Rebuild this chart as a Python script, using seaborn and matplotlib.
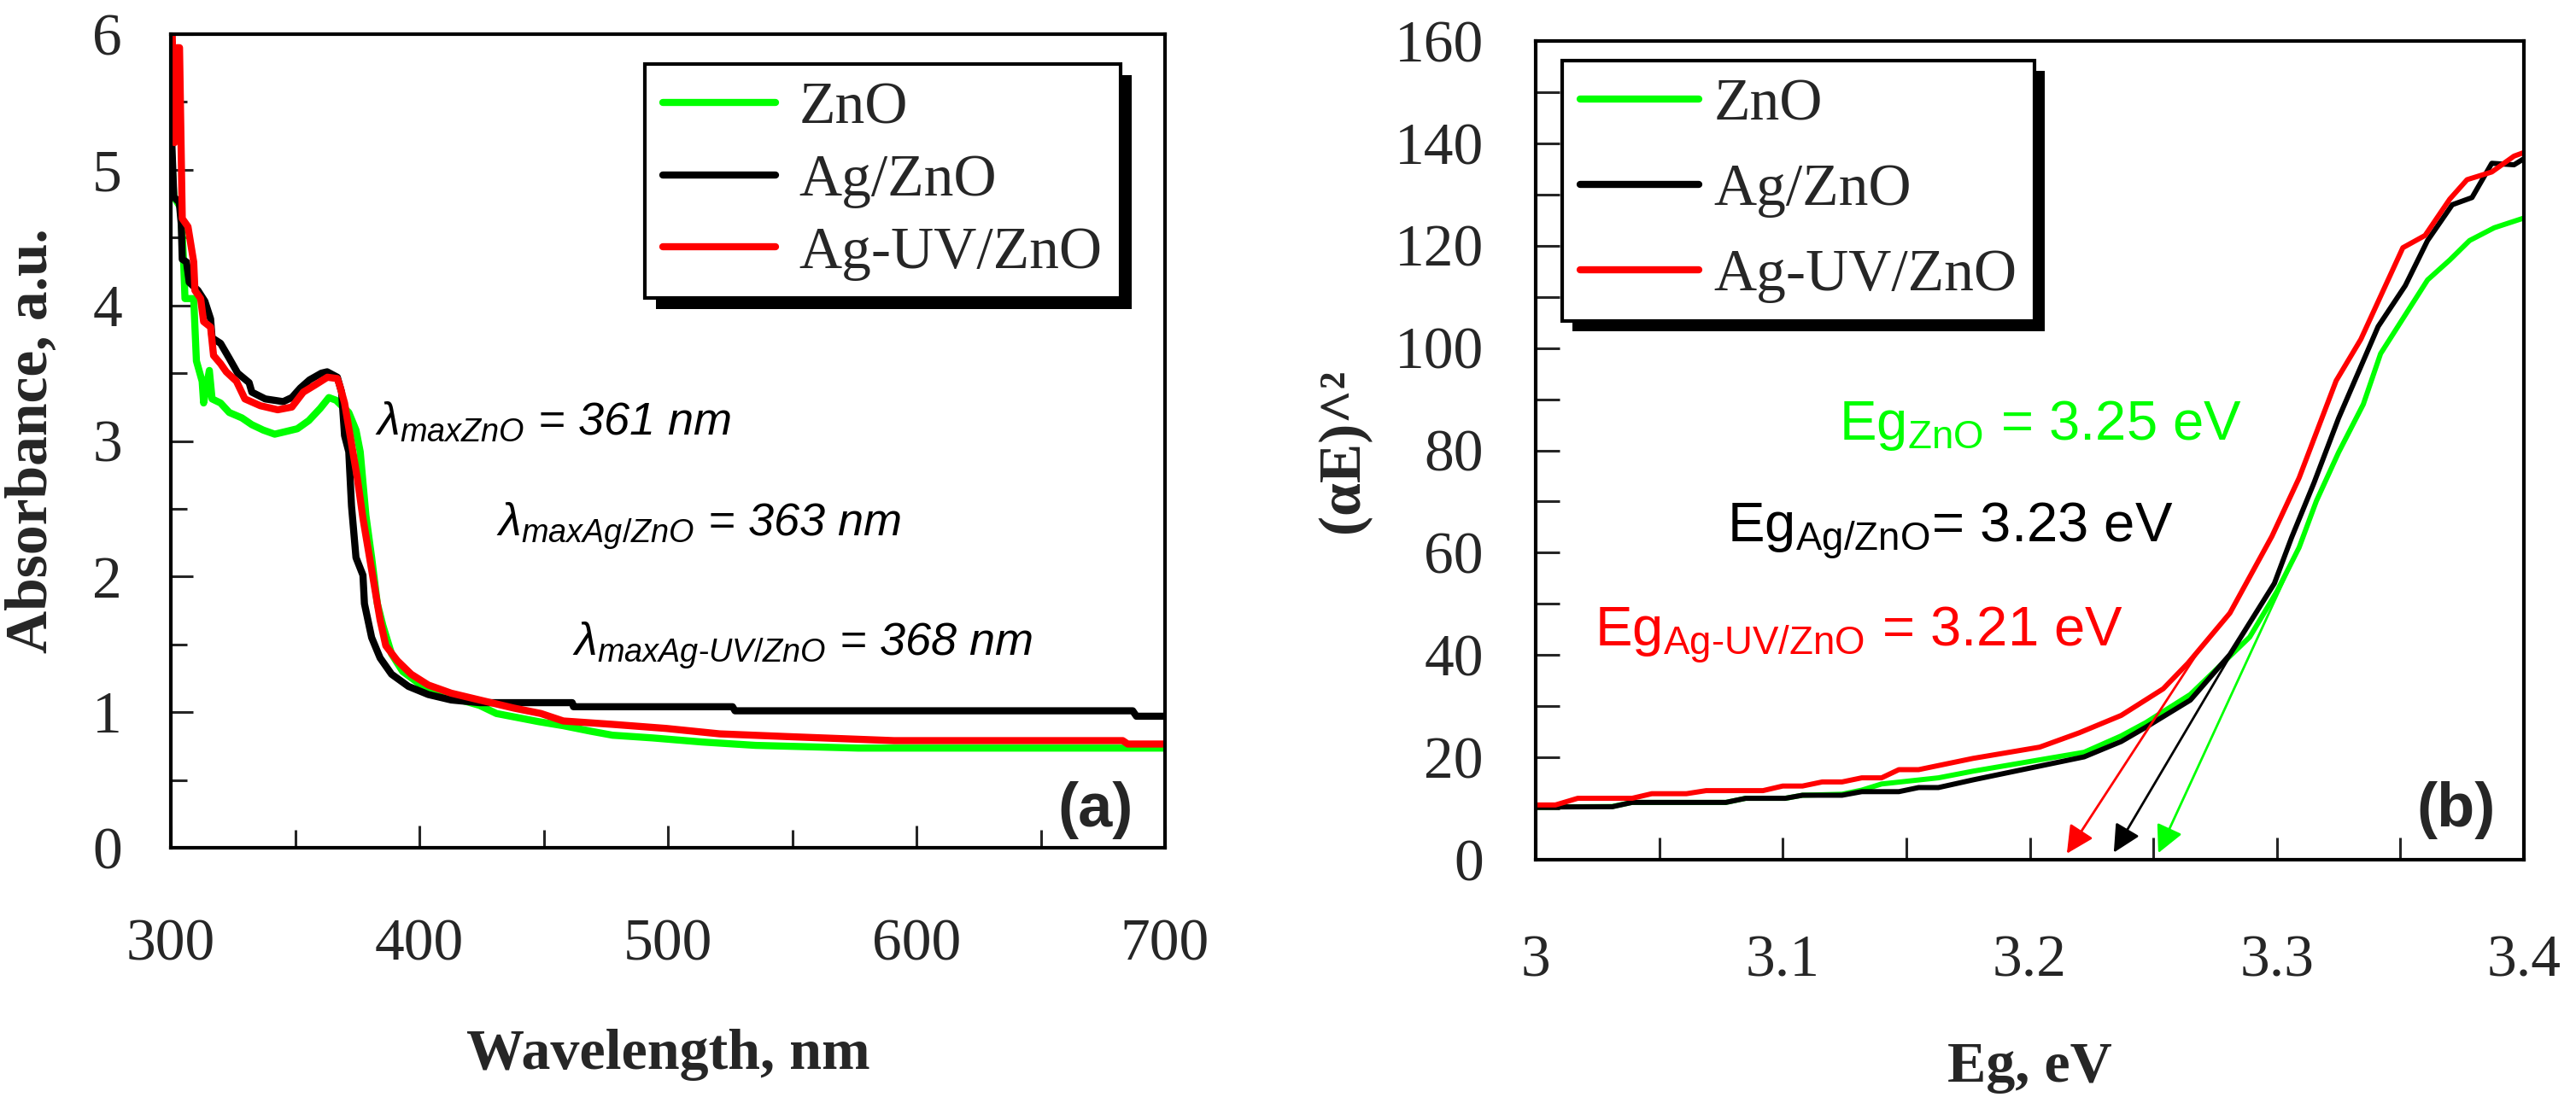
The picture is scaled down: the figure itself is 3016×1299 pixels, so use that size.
import numpy as np
import pandas as pd
import seaborn as sns
import matplotlib.pyplot as plt
from matplotlib.ticker import MultipleLocator, FuncFormatter
from matplotlib.patches import Rectangle

# ---- data ----
# (a) absorbance spectra
zno_wl = [300.3, 301.2, 304.0, 305.2, 305.7, 309.2, 310.3, 312.6, 313.2, 315.5, 316.6, 320.0,
          323.5, 328.6, 332.6, 337.2, 341.8, 346.4, 350.9, 355.5, 360.1, 363.6, 366.5, 368.7,
          371.6, 374.5, 376.2, 378.5, 380.8, 383.1, 385.3, 388.8, 393.3, 401.4, 412.8, 424.2,
          431.0, 448.0, 457.9, 468.8, 477.7, 493.8, 513.7, 535.3, 576.6, 700.0]
zno_abs = [5.10, 4.80, 4.72, 4.30, 4.05, 4.05, 3.59, 3.44, 3.28, 3.52, 3.31, 3.28,
           3.21, 3.17, 3.12, 3.08, 3.05, 3.07, 3.09, 3.15, 3.24, 3.32, 3.30, 3.26,
           3.21, 3.08, 2.92, 2.45, 2.14, 1.80, 1.64, 1.43, 1.30, 1.19, 1.11, 1.05,
           0.99, 0.93, 0.90, 0.86, 0.83, 0.81, 0.78, 0.755, 0.735, 0.735]

ag_wl = [300.3, 301.2, 303.4, 304.2, 304.6, 306.3, 307.4, 310.9, 313.7, 316.0, 316.6, 320.0,
         323.5, 326.9, 331.5, 332.6, 338.0, 345.2, 348.7, 352.1, 355.8, 360.6, 362.9, 367.0,
         368.7, 369.9, 371.6, 372.7, 374.5, 377.3, 377.9, 380.8, 384.2, 388.8, 395.6, 403.6,
         412.8, 424.2, 461.5, 462.0, 526.0, 527.0, 687.0, 688.5, 700.0]
ag_abs = [5.25, 4.80, 4.76, 4.60, 4.34, 4.32, 4.17, 4.11, 4.03, 3.90, 3.76, 3.72,
          3.61, 3.50, 3.43, 3.36, 3.31, 3.29, 3.32, 3.39, 3.45, 3.50, 3.51, 3.47,
          3.36, 3.04, 2.92, 2.52, 2.14, 2.01, 1.80, 1.55, 1.40, 1.28, 1.19, 1.13,
          1.09, 1.07, 1.07, 1.04, 1.04, 1.01, 1.01, 0.97, 0.97]

aguv_wl = [300.5, 301.5, 302.5, 303.5, 304.6, 306.9, 309.2, 309.7, 312.0, 313.2, 316.0, 317.2,
           320.0, 322.3, 326.4, 329.8, 336.0, 343.0, 348.7, 353.3, 357.8, 363.0, 367.0, 368.1,
           369.9, 372.7, 375.0, 377.3, 379.6, 381.9, 384.2, 386.5, 391.1, 396.7, 403.6, 412.8,
           424.2, 438.0, 448.9, 457.9, 477.7, 499.3, 520.8, 547.8, 591.0, 683.0, 685.0, 700.0]
aguv_abs = [6.05, 5.20, 5.90, 5.90, 4.64, 4.58, 4.32, 4.11, 4.05, 3.88, 3.84, 3.63,
            3.57, 3.51, 3.44, 3.31, 3.26, 3.23, 3.25, 3.36, 3.41, 3.47, 3.46, 3.40,
            3.28, 2.98, 2.73, 2.43, 2.18, 1.93, 1.68, 1.49, 1.38, 1.28, 1.20, 1.14,
            1.09, 1.03, 0.99, 0.935, 0.91, 0.88, 0.84, 0.82, 0.79, 0.79, 0.765, 0.765]

# (b) Tauc plots
zno_eg = [3.000, 3.031, 3.039, 3.077, 3.085, 3.101, 3.108, 3.124, 3.132, 3.140, 3.163, 3.177,
          3.222, 3.237, 3.247, 3.265, 3.289, 3.300, 3.309, 3.316, 3.325, 3.335, 3.342, 3.361,
          3.370, 3.378, 3.388, 3.400]
zno_ae = [10.3, 10.4, 11.2, 11.2, 12.0, 12.0, 12.6, 12.8, 13.6, 14.8, 16.0, 17.3,
          21.0, 24.2, 26.8, 32.3, 43.5, 52.4, 61.0, 70.1, 79.6, 89.0, 98.9, 113.3,
          117.2, 121.0, 123.5, 125.4]

ag_eg = [3.000, 3.031, 3.039, 3.077, 3.085, 3.101, 3.108, 3.124, 3.132, 3.147, 3.155, 3.163,
         3.177, 3.222, 3.237, 3.247, 3.265, 3.281, 3.299, 3.306, 3.315, 3.325, 3.341, 3.352,
         3.361, 3.371, 3.379, 3.387, 3.396, 3.400]
ag_ae = [10.3, 10.35, 11.2, 11.2, 12.0, 12.0, 12.6, 12.6, 13.3, 13.3, 14.1, 14.1,
         15.6, 20.1, 23.1, 25.9, 31.2, 40.1, 54.0, 63.0, 73.6, 86.3, 104.2, 112.2,
         121.0, 128.0, 129.4, 136.1, 135.8, 137.0]

aguv_eg = [3.000, 3.008, 3.017, 3.039, 3.047, 3.061, 3.069, 3.092, 3.100, 3.108, 3.116, 3.124,
           3.132, 3.140, 3.147, 3.155, 3.177, 3.204, 3.220, 3.237, 3.254, 3.264, 3.281, 3.298,
           3.309, 3.324, 3.334, 3.351, 3.360, 3.370, 3.377, 3.387, 3.396, 3.400]
aguv_ae = [10.7, 10.7, 12.0, 12.0, 12.9, 12.9, 13.5, 13.5, 14.4, 14.4, 15.2, 15.2,
           16.0, 16.0, 17.6, 17.6, 19.8, 22.0, 24.8, 28.2, 33.4, 38.4, 48.2, 63.2,
           74.6, 93.6, 101.7, 119.6, 122.0, 129.1, 132.9, 134.4, 137.5, 138.2]

# tangent arrows: (start x, start y, end x, end y)
arrow_zno = (3.310, 62.0, 3.252, 1.3)
arrow_ag = (3.285, 43.0, 3.234, 1.4)
arrow_aguv = (3.268, 40.5, 3.215, 1.2)

labels = ["ZnO", "Ag/ZnO", "Ag-UV/ZnO"]
colors = ["#00ff00", "#000000", "#ff0000"]

# ---- style ----
sns.set_theme(style="ticks")
plt.rcParams["font.family"] = ["Liberation Serif", "DejaVu Serif"]
plt.rcParams["mathtext.fontset"] = "custom"
plt.rcParams["mathtext.rm"] = "Liberation Sans"
plt.rcParams["mathtext.it"] = "Liberation Sans:italic"
plt.rcParams["mathtext.bf"] = "Liberation Sans:bold"

W, H = 3016, 1299
fig = plt.figure(figsize=(W / 100, H / 100), dpi=100)
ax1 = fig.add_axes([200 / W, 1 - 993 / H, 1164 / W, 953 / H])
ax2 = fig.add_axes([1798 / W, 1 - 1007 / H, 1157 / W, 959 / H])

# ---- (a) ----
for wl, ab, lab, c in zip([zno_wl, ag_wl, aguv_wl], [zno_abs, ag_abs, aguv_abs], labels, colors):
    sns.lineplot(x=wl, y=ab, ax=ax1, color=c, lw=6, label=lab, estimator=None, sort=False)

ax1.set_xlim(300, 700)
ax1.set_ylim(0, 6)
ax1.xaxis.set_major_locator(MultipleLocator(100))
ax1.xaxis.set_minor_locator(MultipleLocator(50))
ax1.yaxis.set_major_locator(MultipleLocator(1))
ax1.yaxis.set_minor_locator(MultipleLocator(0.5))
ax1.tick_params(axis="x", which="major", direction="in", length=19, width=2.2, pad=60, labelsize=50)
ax1.tick_params(axis="x", which="minor", direction="in", length=15, width=2.2)
ax1.tick_params(axis="y", which="major", direction="in", length=19, width=2.2, pad=41, labelsize=50)
ax1.tick_params(axis="y", which="minor", direction="in", length=14, width=2.2)
ax1.set_xlabel("Wavelength, nm", fontsize=49, fontweight="bold")
ax1.set_ylabel("Absorbance, a.u.", fontsize=50, fontweight="bold")
ax1.xaxis.set_label_coords(0.5, -0.222)
ax1.yaxis.set_label_coords(-0.112, 0.5)

txt_kw = dict(family="Liberation Sans", style="italic", fontsize=39, color="black")
ax1.text(382, 3.05, r"$\lambda_{maxZnO}$ = 361 nm", **txt_kw)
ax1.text(431, 2.30, r"$\lambda_{maxAg/ZnO}$ = 363 nm", **txt_kw)
ax1.text(461.5, 1.42, r"$\lambda_{maxAg\text{-}UV/ZnO}$ = 368 nm", **txt_kw)
ax1.text(0.968, 0.0105, "(a)", transform=ax1.transAxes, ha="right", va="bottom",
         family="Liberation Sans", fontweight="bold", fontsize=52)

leg1 = ax1.legend(loc="upper right", bbox_to_anchor=(0.955, 0.963), fontsize=50,
                  frameon=True, fancybox=False, framealpha=1, edgecolor="black",
                  borderpad=0.3, labelspacing=0.3, handlelength=1.9, handletextpad=0.4,
                  borderaxespad=0)
leg1.get_frame().set_linewidth(3)

# ---- (b) ----
for eg, ae, lab, c in zip([zno_eg, ag_eg, aguv_eg], [zno_ae, ag_ae, aguv_ae], labels, colors):
    sns.lineplot(x=eg, y=ae, ax=ax2, color=c, lw=4.3, label=lab, estimator=None, sort=False)

for (x0, y0, x1, y1), c in zip([arrow_zno, arrow_ag, arrow_aguv], colors):
    ax2.annotate("", xy=(x1, y1), xytext=(x0, y0),
                 arrowprops=dict(arrowstyle="-|>,head_length=0.7,head_width=0.35",
                                 mutation_scale=28, color=c, lw=2, shrinkA=0, shrinkB=0))

ax2.set_xlim(3, 3.4)
ax2.set_ylim(0, 160)
ax2.xaxis.set_major_locator(MultipleLocator(0.1))
ax2.xaxis.set_minor_locator(MultipleLocator(0.05))
ax2.yaxis.set_major_locator(MultipleLocator(20))
ax2.yaxis.set_minor_locator(MultipleLocator(10))
ax2.xaxis.set_major_formatter(FuncFormatter(lambda v, p: "%g" % round(v, 2)))
ax2.tick_params(axis="x", which="both", direction="in", length=19, width=2.2, pad=63, labelsize=50)
ax2.tick_params(axis="y", which="both", direction="in", length=20, width=2.2, pad=44, labelsize=50)
ax2.set_xlabel("Eg, eV", fontsize=49, fontweight="bold")
ax2.set_ylabel("(αE)^²", fontsize=50, fontweight="bold")
ax2.xaxis.set_label_coords(0.5, -0.222)
ax2.yaxis.set_label_coords(-0.167, 0.5)

eg_kw = dict(family="Liberation Sans", fontsize=47)
ax2.text(3.1228, 82.1, r"Eg$_{\mathrm{ZnO}}$ = 3.25 eV", color=colors[0], **eg_kw)
ax2.text(3.0775, 61.9, r"Eg$_{\mathrm{Ag/ZnO}}$= 3.23 eV", color=colors[1], **eg_kw)
ax2.text(3.0239, 41.6, r"Eg$_{\mathrm{Ag\text{-}UV/ZnO}}$ = 3.21 eV", color=colors[2], **eg_kw)
ax2.text(0.9715, 0.025, "(b)", transform=ax2.transAxes, ha="right", va="bottom",
         family="Liberation Sans", fontweight="bold", fontsize=52)

leg2 = ax2.legend(loc="upper left", bbox_to_anchor=(0.027, 0.976), fontsize=50,
                  frameon=True, fancybox=False, framealpha=1, edgecolor="black",
                  borderpad=0.3, labelspacing=0.52, handlelength=2.0, handletextpad=0.25,
                  borderaxespad=0)
leg2.get_frame().set_linewidth(3)
for h in leg2.get_lines():
    h.set_linewidth(6)

for ax in (ax1, ax2):
    for s in ax.spines.values():
        s.set_linewidth(3)
        s.set_color("black")

# solid drop shadow behind legends
fig.canvas.draw()
for ax, leg, off in ((ax1, leg1, 13), (ax2, leg2, 12)):
    bb = leg.get_frame().get_window_extent().transformed(ax.transAxes.inverted())
    dx = off / (ax.bbox.width)
    dy = off / (ax.bbox.height)
    ax.add_patch(Rectangle((bb.x0 + dx, bb.y0 - dy), bb.width, bb.height,
                           transform=ax.transAxes, facecolor="black", edgecolor="none",
                           zorder=leg.get_zorder() - 0.1, clip_on=False))

fig.savefig("out.png", dpi=100)
